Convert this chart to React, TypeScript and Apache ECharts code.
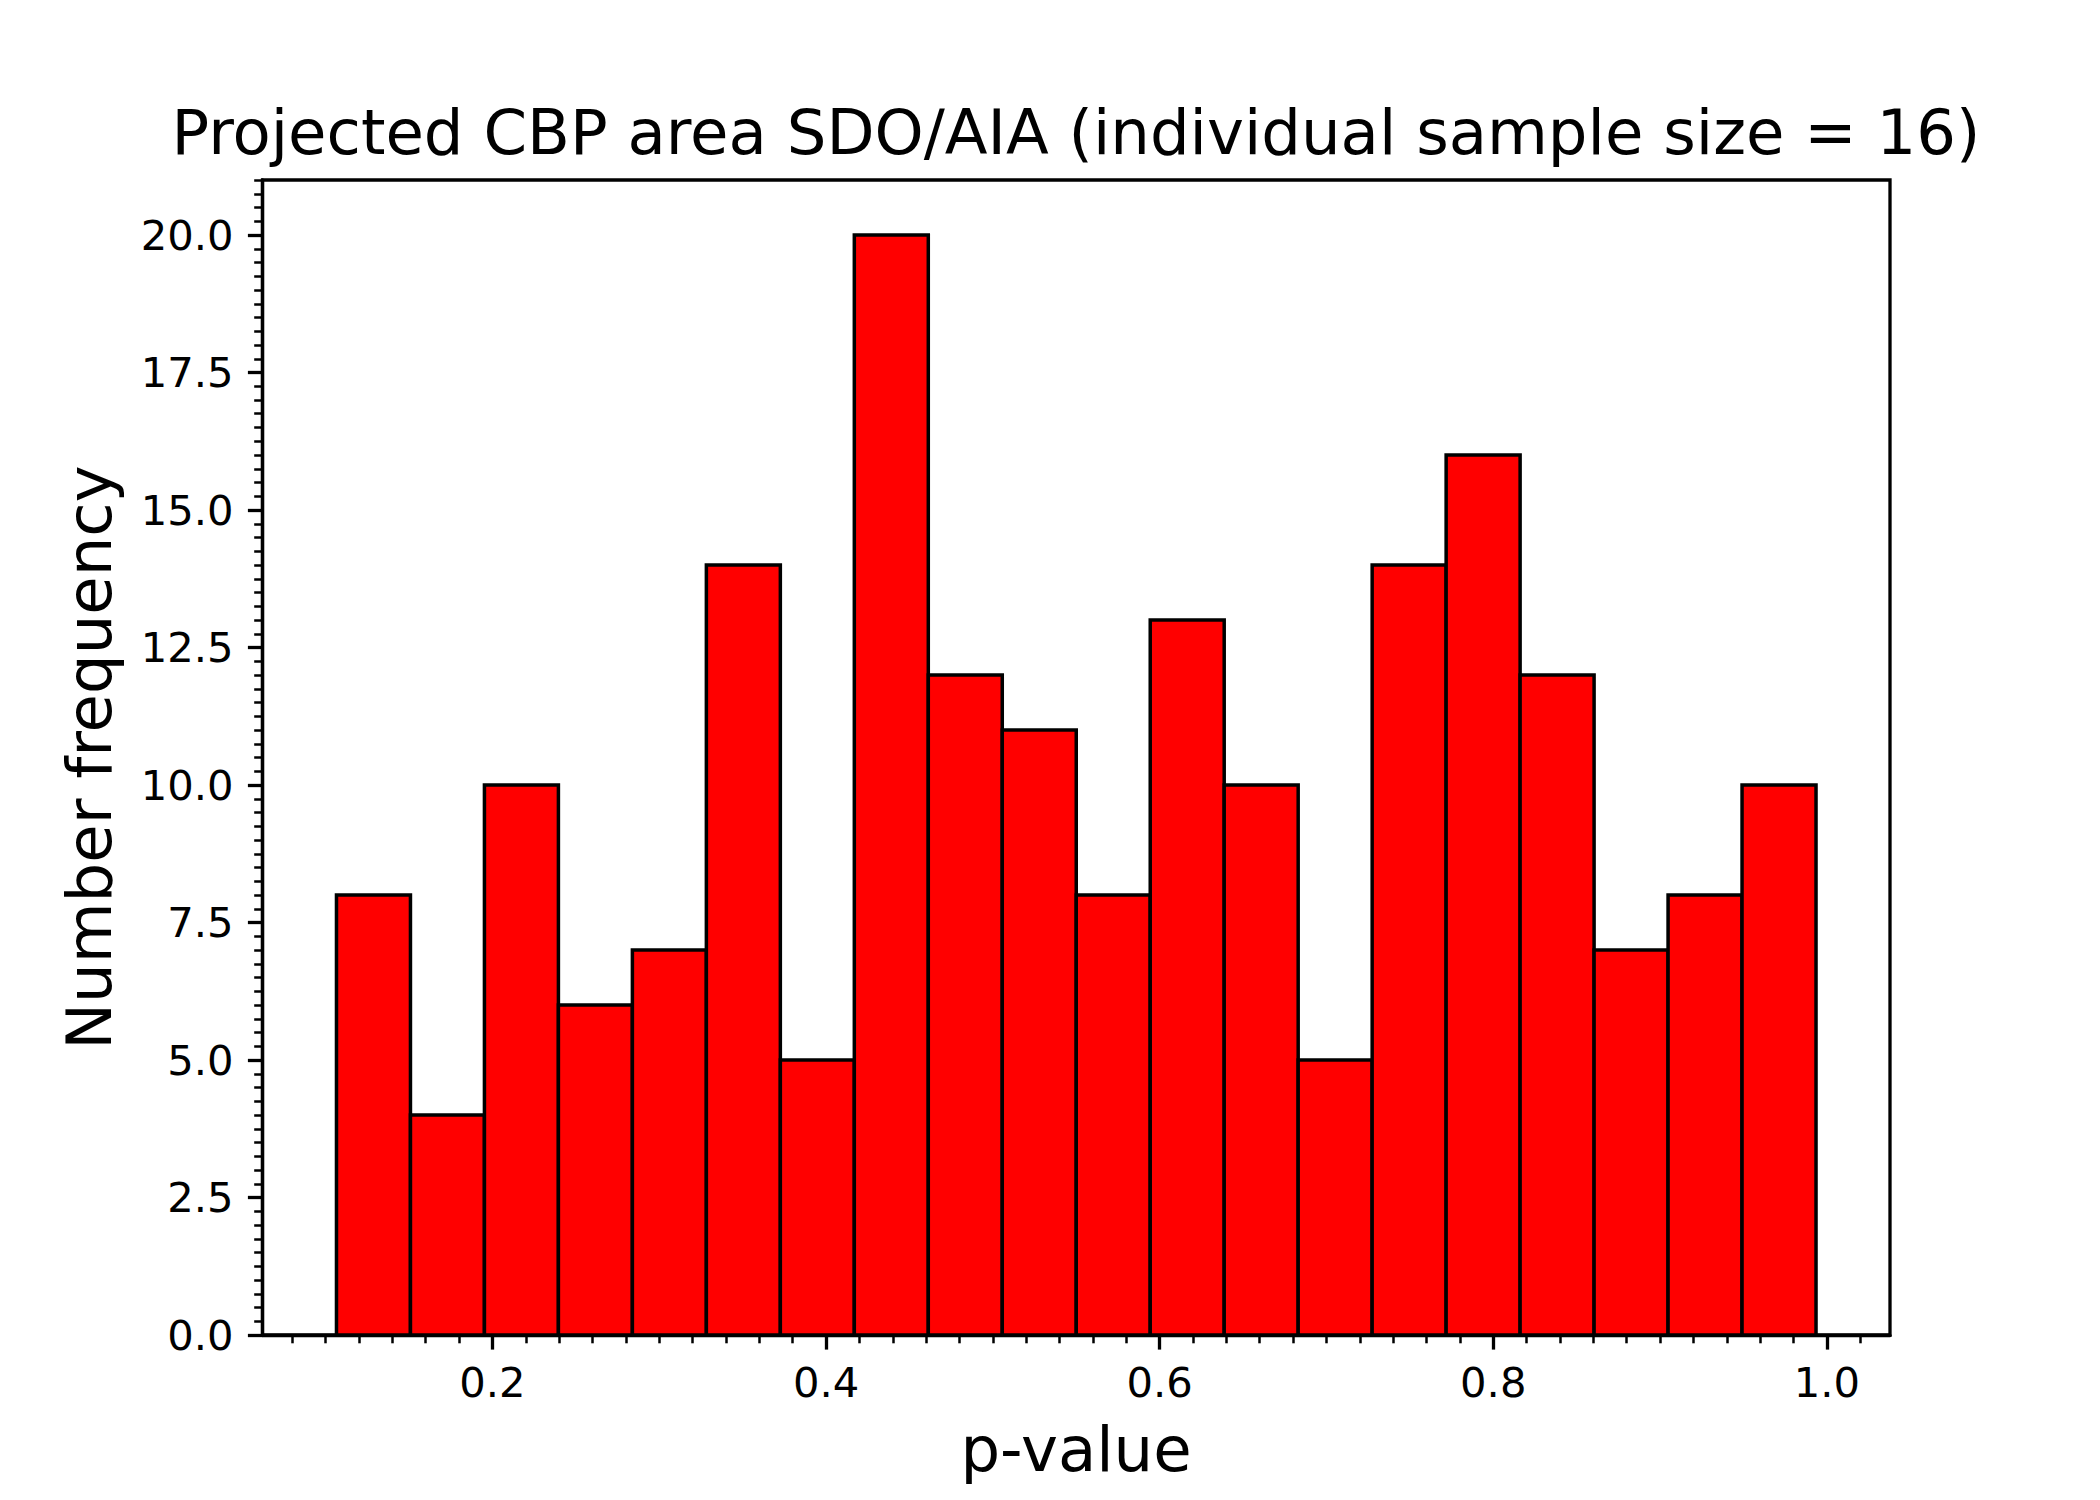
import React, { useEffect, useRef } from "react";
import * as echarts from "echarts";

// ---- data ----
const titleText = "Projected CBP area SDO/AIA (individual sample size = 16)";
const xLabelText = "p-value";
const yLabelText = "Number frequency";

// histogram: 20 equal-width bins between these limits
const binLow = 0.1065;
const binHigh = 0.9935;
const counts = [8, 4, 10, 6, 7, 14, 5, 20, 12, 11, 8, 13, 10, 5, 14, 16, 12, 7, 8, 10];

const xMin = 0.06215;
const xMax = 1.03785;
const yMin = 0;
const yMax = 21;

const xMajorTicks = [0.2, 0.4, 0.6, 0.8, 1.0];
const yMajorTicks = [0, 2.5, 5, 7.5, 10, 12.5, 15, 17.5, 20];
const xMinorStep = 0.02;
const yMinorStep = 0.25;

const FONT = "DejaVu Sans";

function minorTicks(min: number, max: number, step: number, majors: number[]) {
  const out: number[] = [];
  const start = Math.ceil(min / step - 1e-9);
  const end = Math.floor(max / step + 1e-9);
  for (let i = start; i <= end; i++) {
    const v = +(i * step).toFixed(6);
    if (!majors.some((m) => Math.abs(m - v) < 1e-6)) out.push(v);
  }
  return out;
}

export default function App() {
  const ref = useRef<HTMLDivElement>(null);

  useEffect(() => {
    if (!ref.current) return;
    const chart = echarts.init(ref.current, undefined, { renderer: "svg" });

    const nBins = counts.length;
    const w = (binHigh - binLow) / nBins;
    const data = counts.map((c, i) => [binLow + i * w, binLow + (i + 1) * w, c]);

    const xMinor = minorTicks(xMin, xMax, xMinorStep, xMajorTicks);
    const yMinor = minorTicks(yMin, yMax, yMinorStep, yMajorTicks);

    const spineW = 3.3;
    const left = 262.5, right = 210, top = 180, bottom = 165;

    chart.setOption({
      animation: false,
      backgroundColor: "#ffffff",
      grid: {
        left, right, top, bottom,
        show: true,
        borderColor: "#000000",
        borderWidth: spineW,
        backgroundColor: "transparent",
        containLabel: false,
      },
      xAxis: [
        {
          type: "value",
          min: xMin,
          max: xMax,
          position: "bottom",
          splitLine: { show: false },
          axisLine: { show: true, onZero: false, lineStyle: { color: "#000", width: spineW } },
          axisTick: {
            show: true,
            customValues: xMajorTicks,
            length: 14.6,
            lineStyle: { color: "#000", width: 3.3 },
          },
          axisLabel: {
            show: true,
            customValues: xMajorTicks,
            margin: 26,
            fontFamily: FONT,
            fontSize: 41.7,
            color: "#000",
            formatter: (v: number) => v.toFixed(1),
          },
        },
        {
          type: "value",
          min: xMin,
          max: xMax,
          position: "bottom",
          offset: 0,
          splitLine: { show: false },
          axisLine: { show: false, onZero: false },
          axisTick: {
            show: true,
            customValues: xMinor,
            length: 8.3,
            lineStyle: { color: "#000", width: 2.5 },
          },
          axisLabel: { show: false },
        },
      ],
      yAxis: [
        {
          type: "value",
          min: yMin,
          max: yMax,
          position: "left",
          splitLine: { show: false },
          axisLine: { show: true, onZero: false, lineStyle: { color: "#000", width: spineW } },
          axisTick: {
            show: true,
            customValues: yMajorTicks,
            length: 14.6,
            lineStyle: { color: "#000", width: 3.3 },
          },
          axisLabel: {
            show: true,
            customValues: yMajorTicks,
            margin: 29,
            fontFamily: FONT,
            fontSize: 41.7,
            color: "#000",
            formatter: (v: number) => v.toFixed(1),
          },
        },
        {
          type: "value",
          min: yMin,
          max: yMax,
          position: "left",
          offset: 0,
          splitLine: { show: false },
          axisLine: { show: false, onZero: false },
          axisTick: {
            show: true,
            customValues: yMinor,
            length: 8.3,
            lineStyle: { color: "#000", width: 2.5 },
          },
          axisLabel: { show: false },
        },
      ],
      series: [
        {
          type: "custom",
          xAxisIndex: 0,
          yAxisIndex: 0,
          encode: { x: [0, 1], y: 2 },
          data,
          renderItem: (params: any, api: any) => {
            const x0 = api.value(0);
            const x1 = api.value(1);
            const h = api.value(2);
            const p0 = api.coord([x0, h]);
            const p1 = api.coord([x1, 0]);
            return {
              type: "rect",
              shape: { x: p0[0], y: p0[1], width: p1[0] - p0[0], height: p1[1] - p0[1] },
              style: { fill: "#ff0000", stroke: "#000000", lineWidth: 3.5 },
            };
          },
        },
      ],
      graphic: [
        {
          type: "text",
          x: 1076,
          y: 132,
          style: {
            text: titleText,
            fontFamily: FONT,
            fontSize: 62.5,
            fill: "#000",
            textAlign: "center",
            textVerticalAlign: "middle",
          },
        },
        {
          type: "text",
          x: 1076,
          y: 1449,
          style: {
            text: xLabelText,
            fontFamily: FONT,
            fontSize: 62.5,
            fill: "#000",
            textAlign: "center",
            textVerticalAlign: "middle",
          },
        },
        {
          type: "text",
          x: 89,
          y: 757.5,
          rotation: Math.PI / 2,
          style: {
            text: yLabelText,
            fontFamily: FONT,
            fontSize: 62.5,
            fill: "#000",
            textAlign: "center",
            textVerticalAlign: "middle",
          },
        },
      ],
    });

    return () => chart.dispose();
  }, []);

  return (
    <div
      ref={ref}
      style={{ position: "fixed", left: 0, top: 0, width: 2100, height: 1500, background: "#fff" }}
    />
  );
}
